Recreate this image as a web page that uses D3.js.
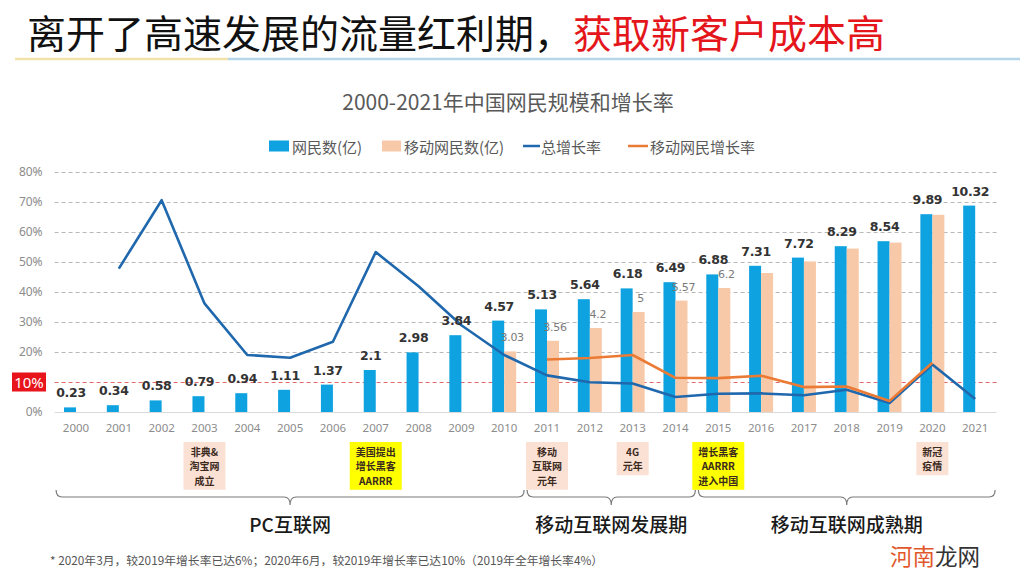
<!DOCTYPE html>
<html><head><meta charset="utf-8">
<script src="https://cdn.jsdelivr.net/npm/d3@7"></script>
<style>
body{margin:0;background:#fff;}
svg{display:block;font-family:"Noto Sans CJK SC","Noto Sans",sans-serif;}
</style>
</head><body><svg id="c" width="1024" height="576"></svg>
<script>
// ---------------- data ----------------
const years = ["2000","2001","2002","2003","2004","2005","2006","2007","2008","2009","2010",
               "2011","2012","2013","2014","2015","2016","2017","2018","2019","2020","2021"];
const totalUsers  = [0.23,0.34,0.58,0.79,0.94,1.11,1.37,2.1,2.98,3.84,4.57,5.13,5.64,6.18,6.49,6.88,7.31,7.72,8.29,8.54,9.89,10.32];
const mobileUsers = [null,null,null,null,null,null,null,null,null,null,3.03,3.56,4.2,5,5.57,6.2,6.95,7.53,8.17,8.47,9.86,null];
const totalGrowth = [null,47.8,70.6,36.2,19.0,18.1,23.4,53.3,41.9,28.9,19.0,12.2,9.9,9.5,5.0,6.1,6.2,5.6,7.4,3.0,15.8,4.3];
const mobileGrowth= [null,null,null,null,null,null,null,null,null,null,null,17.5,18.0,19.0,11.4,11.3,12.1,8.3,8.5,3.7,16.4,null];
const mobileLabelYears = ["2010","2011","2012","2013","2014","2015"];
const pctTicks = [0,10,20,30,40,50,60,70,80];
const seriesNames = ["网民数(亿)","移动网民数(亿)","总增长率","移动网民增长率"];
const annotations = [
  {year:"2003", lines:["非典&","淘宝网","成立"], kind:"event"},
  {year:"2007", lines:["美国提出","增长黑客","AARRR"], kind:"growth"},
  {year:"2011", lines:["移动","互联网","元年"], kind:"event"},
  {year:"2013", lines:["4G","元年"], kind:"event"},
  {year:"2015", lines:["增长黑客","AARRR","进入中国"], kind:"growth"},
  {year:"2020", lines:["新冠","疫情"], kind:"event"}
];
const phases = [
  {label:"PC互联网", from:"2000", to:"2010"},
  {label:"移动互联网发展期", from:"2011", to:"2014"},
  {label:"移动互联网成熟期", from:"2015", to:"2021"}
];
const headingBlack = "离开了高速发展的流量红利期，";
const headingRed = "获取新客户成本高";
const chartTitle = "2000-2021年中国网民规模和增长率";
const footnote = "* 2020年3月，较2019年增长率已达6%；2020年6月，较2019年增长率已达10%（2019年全年增长率4%）";

// ---------------- style ----------------
const C = {blueBar:"#0ea2e0", peach:"#f8c9a9", blueLine:"#1f68ad", orangeLine:"#eb7b34",
           grid:"#b8b8b8", axisText:"#8c8c8c", event:"#fbe1d4", growth:"#ffff00"};

const svg = d3.select("#c");
const data = years.map((y,i)=>({year:y,total:totalUsers[i],mobile:mobileUsers[i],tg:totalGrowth[i],mg:mobileGrowth[i]}));

// heading
const h = svg.append("text").attr("x",27).attr("y",31).attr("dominant-baseline","central")
  .attr("font-size",39).attr("fill","#111");
h.append("tspan").text(headingBlack);
h.append("tspan").attr("fill","#e4161b").text(headingRed);
svg.append("line").attr("x1",15).attr("x2",228).attr("y1",59).attr("y2",59).attr("stroke","#f3e2a8").attr("stroke-width",2.5);
svg.append("line").attr("x1",228).attr("x2",1020).attr("y1",59).attr("y2",59).attr("stroke","#b5d6e6").attr("stroke-width",2.5);

// chart title
svg.append("text").attr("x",508).attr("y",101).attr("text-anchor","middle").attr("dominant-baseline","central")
  .attr("font-size",21).attr("fill","#595959").text(chartTitle);

// legend
const lg = svg.append("g").attr("font-size",15).attr("fill","#595959");
const ly = 146;
lg.append("rect").attr("x",269).attr("y",ly-5.5).attr("width",20).attr("height",11).attr("fill",C.blueBar);
lg.append("text").attr("x",292).attr("y",ly).attr("dominant-baseline","central").text(seriesNames[0]);
lg.append("rect").attr("x",382).attr("y",ly-5.5).attr("width",19).attr("height",11).attr("fill",C.peach);
lg.append("text").attr("x",404).attr("y",ly).attr("dominant-baseline","central").text(seriesNames[1]);
lg.append("line").attr("x1",523).attr("x2",540).attr("y1",ly).attr("y2",ly).attr("stroke",C.blueLine).attr("stroke-width",2.5);
lg.append("text").attr("x",541).attr("y",ly).attr("dominant-baseline","central").text(seriesNames[2]);
lg.append("line").attr("x1",628).attr("x2",648).attr("y1",ly).attr("y2",ly).attr("stroke",C.orangeLine).attr("stroke-width",2.5);
lg.append("text").attr("x",650).attr("y",ly).attr("dominant-baseline","central").text(seriesNames[3]);

// scales
const x = d3.scaleBand().domain(years).range([54.6,996.6]).padding(0);
const xs = d3.scaleBand().domain(["total","mobile"]).range([-12,12]).padding(0);
const cx = y => x(y) + x.bandwidth()/2;
const yPct = d3.scaleLinear().domain([0,80]).range([412,172]);
const yVal = d3.scaleLinear().domain([0,12]).range([412,172]);

// grid + y axis
const yAxis = d3.axisLeft(yPct).tickValues(pctTicks).tickSize(-(996.6-54.6)).tickFormat(d=>d+"%");
const ga = svg.append("g").attr("transform","translate(54.6,0)").call(yAxis);
ga.select(".domain").remove();
ga.selectAll(".tick line").attr("stroke",d=>d===10?"#e06a6a":(d===0?"#d9d9d9":C.grid))
  .attr("stroke-dasharray",d=>d===0?null:"4,3").attr("stroke-width",1);
ga.selectAll(".tick text").attr("x",-12).attr("font-size",12).attr("fill",C.axisText)
  .attr("font-family","'Noto Sans','DejaVu Sans',sans-serif").style("display",d=>d===10?"none":null);
// highlighted 10% label
svg.append("rect").attr("x",12).attr("y",yPct(10)-9.5).attr("width",34).attr("height",19).attr("fill","#e8141b");
svg.append("text").attr("x",29).attr("y",yPct(10)).attr("text-anchor","middle").attr("dominant-baseline","central")
  .attr("font-size",15).attr("fill","#fff").attr("font-family","'Noto Sans',sans-serif").text("10%");

// x axis
const xAxis = d3.axisBottom(x).tickSize(0).tickPadding(12);
const gx = svg.append("g").attr("transform","translate(0,412)").call(xAxis);
gx.select(".domain").remove();
gx.selectAll(".tick text").attr("font-size",11.5).attr("fill",C.axisText).attr("font-family","'Noto Sans','DejaVu Sans',sans-serif");

// bars
svg.append("g").selectAll("rect").data(data).join("rect")
  .attr("x",d=>cx(d.year)+xs("total")).attr("width",xs.bandwidth())
  .attr("y",d=>yVal(d.total)).attr("height",d=>yVal(0)-yVal(d.total)).attr("fill",C.blueBar);
svg.append("g").selectAll("rect").data(data.filter(d=>d.mobile!=null)).join("rect")
  .attr("x",d=>cx(d.year)+xs("mobile")).attr("width",xs.bandwidth())
  .attr("y",d=>yVal(d.mobile)).attr("height",d=>yVal(0)-yVal(d.mobile)).attr("fill",C.peach);

// lines
const line = d3.line().defined(d=>d.v!=null).x(d=>cx(d.year)).y(d=>yPct(d.v));
svg.append("path").datum(data.map(d=>({year:d.year,v:d.tg}))).attr("d",line)
  .attr("fill","none").attr("stroke",C.blueLine).attr("stroke-width",2.6).attr("stroke-linejoin","round");
svg.append("path").datum(data.map(d=>({year:d.year,v:d.mg}))).attr("d",line)
  .attr("fill","none").attr("stroke",C.orangeLine).attr("stroke-width",2.6).attr("stroke-linejoin","round");

// labels
svg.append("g").selectAll("text").data(data).join("text")
  .attr("x",d=>cx(d.year)+xs("total")+xs.bandwidth()/2+1).attr("y",d=>yVal(d.total)-10)
  .attr("text-anchor","middle").attr("font-size",12.5).attr("font-weight","bold").attr("fill","#333")
  .attr("font-family","'DejaVu Sans','Noto Sans',sans-serif").attr("letter-spacing",-0.3)
  .text(d=>d.total);
svg.append("g").selectAll("text").data(data.filter(d=>mobileLabelYears.includes(d.year))).join("text")
  .attr("x",d=>cx(d.year)+xs("mobile")+xs.bandwidth()/2+2).attr("y",d=>yVal(d.mobile)-10)
  .attr("text-anchor","middle").attr("font-size",11).attr("fill","#7a7a7a")
  .attr("font-family","'DejaVu Sans','Noto Sans',sans-serif").attr("letter-spacing",-0.3)
  .text(d=>d.mobile);

// annotation boxes
const lh = 14.6, afs = 10;
annotations.forEach(a=>{
  const g = svg.append("g");
  const texts = a.lines.map((s,i)=>g.append("text").attr("x",cx(a.year)).attr("y",451+i*lh)
    .attr("dominant-baseline","central").attr("font-size",afs).attr("font-weight","bold")
    .attr("fill","#3b2a1e").attr("text-anchor","middle").text(s));
  const w = d3.max(texts, t=>t.node().getComputedTextLength());
  g.insert("rect","text").attr("x",cx(a.year)-w/2-6).attr("y",442).attr("width",w+12)
    .attr("height",a.lines.length*lh+4).attr("fill",a.kind==="growth"?C.growth:C.event);
});

// braces
const bg = svg.append("g");
phases.forEach(p=>{
  const x0 = x(p.from)+1.5, x1 = x(p.to)+x.bandwidth()-1.5, xm=(x0+x1)/2;
  const yT=490, yM=497, yP=505, r=6;
  const d = `M${x0},${yT} Q${x0},${yM} ${x0+r},${yM} L${xm-r},${yM} Q${xm},${yM} ${xm},${yP} Q${xm},${yM} ${xm+r},${yM} L${x1-r},${yM} Q${x1},${yM} ${x1},${yT}`;
  bg.append("path").attr("d",d).attr("fill","none").attr("stroke","#7a7a7a").attr("stroke-width",1.2);
  bg.append("text").attr("x",xm).attr("y",523).attr("text-anchor","middle").attr("dominant-baseline","central")
    .attr("font-size",19).attr("font-weight",500).attr("fill","#1a1a1a").text(p.label);
});

// footnote
svg.append("text").attr("x",50).attr("y",559).attr("dominant-baseline","central")
  .attr("font-size",11.8).attr("fill","#555").text(footnote);

// source mark
const sm = svg.append("text").attr("x",890).attr("y",555).attr("dominant-baseline","central").attr("font-size",22.5);
sm.append("tspan").attr("fill","#e2582c").text("河南");
sm.append("tspan").attr("fill","#333").text("龙网");
</script>
</body></html>
